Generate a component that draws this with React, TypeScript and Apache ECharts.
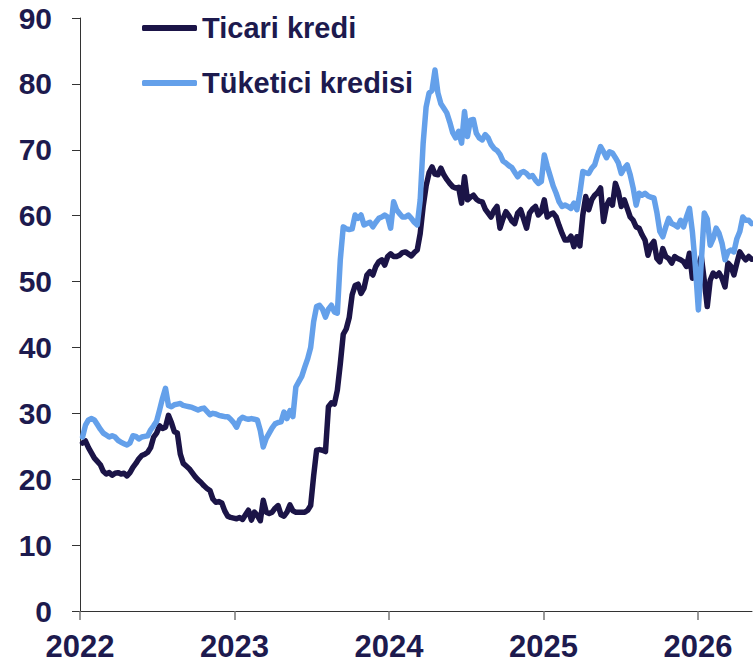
import React, { useEffect, useRef } from "react";
import * as echarts from "echarts";

// Weekly observations, first week ending 2022-01-07
const startDate = "2022-01-07";
const seriesNames = ["Ticari kredi", "Tüketici kredisi"];
const yTicks = [0, 10, 20, 30, 40, 50, 60, 70, 80, 90];
const xTickYears = [2022, 2023, 2024, 2025, 2026];

const ticari = [
  25.5, 25.8, 24.8, 24.0, 23.2, 22.7, 22.2, 21.2, 20.8, 21.0,
  20.6, 20.9, 21.0, 20.8, 20.9, 20.5, 21.0, 21.8, 22.4, 23.1,
  23.6, 23.8, 24.1, 24.8, 26.4, 27.0, 28.1, 27.7, 27.9, 29.7,
  28.6, 27.2, 27.0, 23.8, 22.4, 22.0, 21.6, 21.0, 20.4, 19.9,
  19.5, 19.0, 18.6, 18.3, 17.0, 16.5, 16.6, 16.4, 15.2, 14.4,
  14.2, 14.1, 14.0, 14.2, 13.9, 14.6, 15.3, 13.8, 15.0, 14.5,
  13.7, 16.8, 15.0, 14.8, 15.0, 15.6, 16.0, 14.6, 14.4, 15.0,
  16.1, 15.2, 15.0, 15.0, 15.0, 15.0, 15.3, 16.0, 20.5, 24.4,
  24.5, 24.4, 24.2, 31.0, 31.6, 31.4, 33.5, 37.5, 42.0, 42.8,
  44.5, 48.0, 49.4, 49.6, 48.2, 49.0, 51.0, 51.5, 51.0, 52.3,
  53.0, 53.3, 52.5, 53.8, 54.2, 53.8, 53.8, 54.0, 54.4, 54.5,
  54.2, 53.9, 54.4, 54.8, 57.3, 61.4, 64.5, 66.5, 67.4, 66.3,
  66.2, 67.2, 66.2, 65.5, 64.9, 64.4, 64.2, 64.3, 61.9, 65.9,
  62.4, 62.8, 63.1, 62.5, 62.2, 62.1, 61.0, 60.4, 59.8, 60.8,
  61.4, 58.1, 59.5, 60.6, 60.0, 59.2, 58.8, 60.4, 60.9, 59.5,
  58.1, 60.4, 61.0, 61.4, 60.1, 60.6, 62.4, 59.8, 60.2, 60.4,
  59.8, 58.5, 57.3, 56.3, 56.3, 56.9, 55.3, 56.8, 55.4, 60.1,
  62.9, 60.9, 62.4, 63.1, 63.5, 64.2, 59.1, 61.5, 62.4, 61.6,
  64.9, 63.6, 61.4, 62.4, 61.1, 59.8, 59.3, 58.3, 58.1, 57.1,
  56.3, 54.0, 55.5, 56.1, 53.5, 53.0, 55.0, 53.8, 53.5, 52.8,
  53.8, 53.5, 53.3, 53.0, 52.3, 54.3, 50.5, 51.3, 52.3, 53.8,
  50.2, 46.2, 50.2, 51.3, 50.8, 51.3, 50.5, 49.2, 52.8, 52.3,
  51.0, 52.8, 54.5, 53.8, 53.3, 53.8, 53.4,
];

const tuketici = [
  26.4, 28.2, 29.0, 29.2, 29.0, 28.3, 27.6, 27.0, 26.7, 26.4,
  26.6, 26.4, 25.9, 25.6, 25.4, 25.2, 25.5, 26.6, 26.5, 26.1,
  26.4, 26.5, 26.6, 27.5, 28.1, 28.8, 30.5, 32.3, 33.8, 31.2,
  31.0, 31.3, 31.4, 31.5, 31.2, 31.1, 31.0, 30.9, 30.7, 30.5,
  30.7, 30.8, 30.3, 29.8, 30.0, 29.9, 29.7, 29.6, 29.5, 29.5,
  29.1, 28.6, 27.9, 29.0, 29.4, 29.2, 29.1, 29.2, 29.1, 29.0,
  27.4, 24.9, 26.2, 27.0, 27.8, 28.4, 28.6, 28.7, 30.2, 29.2,
  30.4, 29.5, 34.0, 34.8, 35.6, 37.0, 38.3, 40.0, 43.9, 46.2,
  46.4, 45.8, 44.6, 45.8, 46.4, 45.4, 45.2, 53.3, 58.3, 58.0,
  57.9, 58.0, 60.1, 59.6, 60.1, 58.6, 58.8, 59.0, 58.3, 59.0,
  59.6, 59.8, 60.1, 59.8, 58.1, 62.1, 60.9, 60.3, 59.8, 59.8,
  60.1, 59.6, 59.0, 58.6, 62.4, 71.0, 76.5, 78.6, 79.0, 82.1,
  78.6, 77.0, 76.3, 75.6, 74.2, 72.6, 71.8, 72.8, 71.0, 75.8,
  72.0, 74.5, 74.6, 72.5, 71.8, 71.5, 72.3, 71.8, 70.8, 70.2,
  69.9, 69.3, 68.3, 68.0, 67.6, 67.3, 66.6, 65.9, 66.5, 66.7,
  66.4, 65.9, 66.1, 65.4, 64.9, 65.2, 69.2, 67.5, 66.0, 64.5,
  63.4, 62.1, 61.4, 61.6, 61.4, 61.1, 61.9, 60.9, 63.4, 66.7,
  66.5, 66.4, 67.2, 67.7, 69.2, 70.5, 69.7, 68.8, 69.7, 69.5,
  68.8, 68.0, 66.4, 67.2, 67.7, 66.2, 64.2, 61.6, 63.4, 63.1,
  63.4, 63.0, 62.8, 62.7, 60.5, 57.6, 56.8, 58.3, 59.6, 58.8,
  58.6, 58.3, 59.3, 58.3, 59.8, 61.1, 57.5, 52.3, 45.7, 53.0,
  60.4, 59.5, 55.5, 56.5, 58.1, 57.3, 55.8, 53.3, 54.5, 54.8,
  54.5, 56.5, 57.6, 59.8, 59.3, 59.3, 58.8,
];

const DARK = "#1b1447";
const LIGHT = "#64a0ea";
const TEXT = "#1d1a4e";
const FONT = "'Liberation Sans', Arial, sans-serif";

function weekDate(i: number): number {
  const t0 = Date.parse(startDate + "T00:00:00Z");
  return t0 + i * 7 * 86400000;
}

function toDecimalYear(t: number): number {
  const y = new Date(t).getUTCFullYear();
  const a = Date.UTC(y, 0, 1);
  const b = Date.UTC(y + 1, 0, 1);
  return y + (t - a) / (b - a);
}

export default function App() {
  const ref = useRef<HTMLDivElement>(null);

  useEffect(() => {
    if (!ref.current) return;
    const chart = echarts.init(ref.current, undefined, { renderer: "svg" });
    const pairs = (vals: number[]) =>
      vals.map((v, i) => [toDecimalYear(weekDate(i)), v]);

    chart.setOption({
      animation: false,
      backgroundColor: "#ffffff",
      grid: { left: 80, right: 1, top: 18, bottom: 55, containLabel: false },
      legend: {
        data: seriesNames,
        orient: "vertical",
        left: 137,
        top: 6,
        itemWidth: 55,
        itemHeight: 6,
        itemGap: 21,
        icon: "roundRect",
        textStyle: {
          fontSize: 29,
          fontWeight: "bold",
          color: TEXT,
          fontFamily: FONT,
          lineHeight: 34,
        },
      },
      xAxis: {
        type: "value",
        min: 2022,
        max: 2026.35,
        interval: 1,
        splitLine: { show: false },
        axisLine: { show: true, onZero: false, lineStyle: { color: "#333333", width: 1 } },
        axisTick: {
          show: true,
          length: 9,
          customValues: xTickYears,
          lineStyle: { color: "#777777", width: 1.5 },
        },
        axisLabel: {
          customValues: xTickYears,
          margin: 20,
          fontSize: 31,
          fontWeight: "bold",
          color: TEXT,
          fontFamily: FONT,
          formatter: (v: number) => String(Math.round(v)),
        },
      },
      yAxis: {
        type: "value",
        min: 0,
        max: 90,
        interval: 10,
        splitLine: { show: false },
        axisLine: { show: true, lineStyle: { color: "#333333", width: 1 } },
        axisTick: {
          show: true,
          length: 8,
          customValues: yTicks,
          lineStyle: { color: "#333333", width: 1 },
        },
        axisLabel: {
          customValues: yTicks,
          margin: 28,
          fontSize: 30,
          fontWeight: "bold",
          color: TEXT,
          fontFamily: FONT,
        },
      },
      series: [
        {
          name: seriesNames[0],
          type: "line",
          data: pairs(ticari),
          showSymbol: false,
          symbol: "none",
          color: DARK,
          lineStyle: { color: DARK, width: 5.5, join: "round", cap: "round" },
        },
        {
          name: seriesNames[1],
          type: "line",
          data: pairs(tuketici),
          showSymbol: false,
          symbol: "none",
          color: LIGHT,
          lineStyle: { color: LIGHT, width: 5.5, join: "round", cap: "round" },
        },
      ],
    });
    return () => chart.dispose();
  }, []);

  return (
    <div
      ref={ref}
      style={{ position: "fixed", left: 0, top: 0, width: 753, height: 666, background: "#fff" }}
    />
  );
}
